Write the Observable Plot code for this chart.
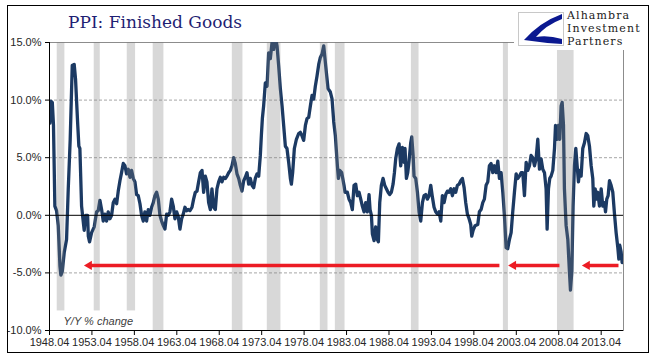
<!DOCTYPE html>
<html><head><meta charset="utf-8">
<script src="https://cdn.jsdelivr.net/npm/d3@7"></script>
<script src="https://cdn.jsdelivr.net/npm/@observablehq/plot@0.6"></script>
<style>
body{margin:0;background:#fff;}
#wrap{position:relative;width:670px;height:358px;overflow:hidden;background:#fff;}
#chart{position:absolute;left:0;top:0;}
#frame{position:absolute;left:7px;top:5px;width:640px;height:346px;border:1px solid #000;pointer-events:none;}
#title{position:absolute;left:68px;top:13.6px;font-family:"DejaVu Serif",serif;font-size:17px;line-height:17px;color:#1f1f73;white-space:nowrap;}
#logo{position:absolute;left:514px;top:6px;width:134px;height:44px;background:#fff;}
#logo svg{position:absolute;left:4px;top:6px;}
.lt{position:absolute;left:53px;font-family:"DejaVu Serif",serif;font-size:11px;line-height:12.8px;height:12.8px;letter-spacing:1.1px;color:#1a1a1a;white-space:nowrap;}
</style></head>
<body>
<div id="wrap">
  <div id="chart"></div>
  <div id="frame"></div>
  <div id="logo">
    <svg width="46" height="34" viewBox="0 0 46 34">
      <rect x="0.5" y="0.5" width="45" height="33" fill="#fff" stroke="#c8c8c8"/>
      <path d="M44,2 Q22,10 6,28 Q26,31 44,32 L44,27 Q30,23 18,25 Q28,13 44,7 Z" fill="#0a1890"/>
    </svg>
    <div class="lt" style="top:4.3px">Alhambra</div>
    <div class="lt" style="top:17.3px">Investment</div>
    <div class="lt" style="top:30.3px">Partners</div>
  </div>
  <div id="title">PPI: Finished Goods</div>
</div>
<script>
// ---- data (decimal years; values in % Y/Y) ----
const dates = [
  1948.30, 1948.42, 1948.58, 1948.72, 1948.88, 1949.08, 1949.28, 1949.48, 1949.59, 1949.75,
  1949.99, 1950.26, 1950.46, 1950.69, 1950.93, 1951.16, 1951.32, 1951.56, 1951.71, 1951.83,
  1952.03, 1952.19, 1952.34, 1952.50, 1952.74, 1952.82, 1952.97, 1953.21, 1953.52, 1953.80,
  1953.99, 1954.19, 1954.39, 1954.58, 1954.78, 1954.98, 1955.17, 1955.37, 1955.57, 1955.76,
  1955.96, 1956.16, 1956.35, 1956.55, 1956.74, 1956.94, 1957.14, 1957.33, 1957.53, 1957.73,
  1957.92, 1958.12, 1958.32, 1958.51, 1958.71, 1958.91, 1959.10, 1959.30, 1959.49, 1959.69,
  1959.89, 1960.08, 1960.28, 1960.48, 1960.67, 1960.87, 1961.07, 1961.26, 1961.46, 1961.66,
  1961.85, 1962.05, 1962.25, 1962.44, 1962.64, 1962.83, 1963.03, 1963.23, 1963.42, 1963.62,
  1963.82, 1964.01, 1964.21, 1964.41, 1964.60, 1964.80,
  1965.04, 1965.23, 1965.43, 1965.63, 1965.82, 1966.02, 1966.22, 1966.41, 1966.61, 1966.80,
  1967.00, 1967.20, 1967.39, 1967.59, 1967.79, 1967.98, 1968.18, 1968.38, 1968.57, 1968.77,
  1968.97, 1969.16, 1969.36, 1969.56, 1969.75, 1969.95, 1970.14, 1970.34, 1970.54, 1970.73,
  1970.93, 1971.13, 1971.32, 1971.52, 1971.72, 1971.91, 1972.11, 1972.31, 1972.50, 1972.70,
  1972.90, 1973.09, 1973.21, 1973.33, 1973.48, 1973.68, 1973.88, 1974.07, 1974.27, 1974.47,
  1974.66, 1974.86, 1975.06, 1975.25, 1975.45, 1975.65, 1975.84, 1976.04, 1976.23, 1976.43,
  1976.63, 1976.75, 1976.90, 1977.10, 1977.34, 1977.61, 1977.81, 1978.00, 1978.20, 1978.40,
  1978.59, 1978.79, 1978.99, 1979.18, 1979.38, 1979.57, 1979.77, 1979.97, 1980.16, 1980.36,
  1980.56, 1980.68, 1980.87, 1981.07, 1981.34, 1981.54, 1981.74, 1981.93,
  1982.17, 1982.29, 1982.44, 1982.68, 1982.95, 1983.07, 1983.34, 1983.54, 1983.74, 1983.93,
  1984.13, 1984.33, 1984.52, 1984.72, 1984.92, 1985.11, 1985.31, 1985.51, 1985.70, 1985.90,
  1986.02, 1986.18, 1986.29, 1986.49, 1986.68, 1986.88, 1987.00, 1987.16, 1987.35, 1987.55,
  1987.75, 1987.94, 1988.14, 1988.33, 1988.53, 1988.73, 1988.89, 1989.04, 1989.24, 1989.44,
  1989.63, 1989.83, 1990.02, 1990.14, 1990.30, 1990.46, 1990.61, 1990.81, 1990.93, 1991.09,
  1991.20, 1991.40, 1991.60, 1991.79, 1991.99, 1992.19, 1992.38, 1992.58, 1992.77, 1992.97,
  1993.17, 1993.36, 1993.56, 1993.76, 1993.95, 1994.15, 1994.35, 1994.54, 1994.74, 1994.94,
  1995.13, 1995.33, 1995.53, 1995.72, 1995.92, 1996.11, 1996.31, 1996.51, 1996.70, 1996.90,
  1997.10, 1997.29, 1997.49, 1997.69, 1997.88, 1998.00, 1998.16, 1998.39,
  1998.71, 1998.90, 1999.10, 1999.30, 1999.49, 1999.69, 1999.89, 2000.08, 2000.28, 2000.48,
  2000.67, 2000.87, 2001.07, 2001.26, 2001.46, 2001.66, 2001.85, 2002.05, 2002.24, 2002.44,
  2002.64, 2002.83, 2003.03, 2003.23, 2003.42, 2003.62, 2003.82, 2004.01, 2004.21, 2004.41,
  2004.60, 2004.80, 2004.99, 2005.19, 2005.39, 2005.58, 2005.78, 2005.98, 2006.17, 2006.37,
  2006.57, 2006.76, 2006.88, 2007.04, 2007.19, 2007.35, 2007.55, 2007.75, 2007.87, 2008.06,
  2008.22, 2008.37, 2008.53, 2008.65, 2008.81, 2008.92, 2009.12, 2009.32, 2009.51, 2009.63,
  2009.79, 2009.94, 2010.10, 2010.26, 2010.42, 2010.57, 2010.73, 2010.89, 2011.08, 2011.28,
  2011.48, 2011.67, 2011.87, 2012.07, 2012.26, 2012.38, 2012.54, 2012.70, 2012.85, 2013.05,
  2013.25, 2013.44, 2013.64, 2013.76, 2013.91, 2014.07, 2014.23, 2014.42, 2014.62, 2014.82,
  2015.01, 2015.21, 2015.33, 2015.44, 2015.60, 2015.72
];
const ppiYoY = [
  8.0, 9.9, 9.8, 7.8, 0.8, 0.4, -0.9, -4.4, -5.2, -4.9,
  -3.2, -2.1, 2.3, 6.6, 13.0, 13.1, 11.8, 8.1, 6.0, 5.8,
  0.8, -0.3, -1.3, 0.0, 0.0, -1.8, -2.3, -1.5, -1.0, 0.3,
  0.4, 1.3, 0.5, -0.5, 0.1, -0.5, 0.3, -0.3, 0.0, 1.1,
  1.4, 1.0, 2.1, 3.0, 3.7, 4.5, 4.3, 3.6, 4.0, 3.3,
  3.9, 3.2, 2.9, 1.8, 1.7, 1.0, 0.0, -0.5, 0.3, -0.5,
  0.5, 0.0, 0.7, 1.1, 1.7, 2.0, 1.4, 0.0, -0.5, -0.9,
  -1.2, 0.1, 0.0, 0.3, 1.4, 0.8, -0.3, 0.3, -0.1, -1.2,
  -0.3, 0.1, 0.7, 0.4, 0.5, 0.4,
  0.7, 1.4, 2.0, 2.1, 2.9, 3.7, 3.9, 2.0, 3.4, 2.9,
  1.1, 0.5, 2.3, 0.7, 0.5, 2.3, 2.9, 3.3, 2.9, 3.3,
  3.2, 3.4, 3.7, 3.9, 4.3, 5.0, 4.5, 3.6, 3.2, 2.6,
  2.1, 3.0, 3.3, 3.7, 2.7, 3.2, 2.6, 2.4, 3.2, 3.6,
  3.4, 5.2, 6.9, 8.4, 9.5, 11.5, 11.2, 14.1, 13.6, 15.0,
  14.4, 15.5, 14.7, 13.0, 11.0, 9.5, 7.8, 6.0, 5.8, 4.6,
  3.2, 2.7, 3.7, 5.8, 6.6, 7.1, 7.2, 6.9, 6.5, 7.8,
  8.4, 8.5, 9.5, 10.4, 10.1, 11.2, 12.1, 13.1, 13.7, 14.0,
  14.7, 13.8, 12.4, 11.0, 10.7, 10.1, 8.1, 6.9,
  4.3, 3.2, 3.9, 3.7, 2.6, 2.0, 2.0, 1.4, 1.1, 0.5,
  2.6, 2.7, 1.7, 2.0, 1.4, 0.8, 0.3, 1.1, 0.3, 1.8,
  0.5, 0.0, -1.6, -2.2, -1.0, -2.1, -2.3, 1.1, 2.6, 3.2,
  2.6, 2.3, 2.0, 1.8, 2.0, 2.7, 3.7, 4.9, 5.8, 6.2,
  4.3, 5.9, 4.6, 5.8, 3.2, 3.7, 4.7, 6.3, 6.8, 5.2,
  3.4, 3.2, 2.0, 0.3, -0.5, 1.1, 1.7, 1.8, 1.4, 1.7,
  2.6, 1.6, 0.7, 0.3, 0.1, 0.3, -0.5, 1.7, 1.1, 1.8,
  2.1, 2.0, 2.3, 1.7, 2.3, 2.0, 2.6, 2.7, 3.0, 3.2,
  2.4, 1.1, 0.1, -0.3, -0.8, -1.8, -1.3, -0.9,
  -0.8, 0.3, 0.5, 1.1, 1.4, 2.6, 2.9, 4.3, 4.5, 3.7,
  4.3, 3.7, 4.7, 3.2, 3.7, 2.0, 0.0, -2.8, -2.9, -2.1,
  -1.5, 0.3, 2.0, 3.6, 3.2, 3.4, 3.7, 3.7, 1.7, 4.6,
  3.9, 4.3, 5.2, 5.0, 4.3, 4.9, 6.6, 4.0, 4.9, 4.0,
  3.7, 2.3, -1.2, 2.3, 3.2, 3.4, 3.9, 5.8, 7.8, 6.6,
  7.8, 6.6, 9.5, 9.8, 7.8, 2.3, -0.9, -2.1, -4.9, -6.5,
  -4.9, 0.8, 4.3, 5.8, 4.3, 2.9, 3.9, 3.4, 5.8, 6.3,
  7.1, 6.9, 6.0, 4.3, 3.2, 0.8, 2.3, 1.4, 2.0, 0.8,
  2.3, 0.8, 1.1, 0.3, 1.4, 1.7, 3.0, 2.6, 2.0, 0.1,
  -1.5, -2.8, -3.8, -2.6, -3.2, -4.1
];
const recessionStart = [1949.16, 1953.52, 1957.41, 1960.47, 1969.79, 1973.91, 1980.16, 1981.93, 1990.89, 2001.73, 2008.10];
const recessionEnd   = [1950.06, 1954.23, 1958.39, 1961.73, 1971.04, 1975.52, 1981.06, 1983.07, 1991.79, 2002.32, 2010.06];
const arrowTail = [2001.26, 2008.33, 2015.29];
const arrowTip  = [1952.34, 2002.32, 2011.01];
const arrowLevel = -4.35;
const xTickLabels = ["1948.04","1953.04","1958.04","1963.04","1968.04","1973.04","1978.04","1983.04","1988.04","1993.04","1998.04","2003.04","2008.04","2013.04"];
const yTicks = [-10, -5, 0, 5, 10, 15];
const unitLabel = "Y/Y % change";

// ---- derived ----
const toYear = s => +s.slice(0, 4) + (+s.slice(5) - 1) / 12;
const xTicks = xTickLabels.map(toYear);
const series = dates.map((t, i) => ({t, v: ppiYoY[i]}));
const recessions = recessionStart.map((s, i) => ({s, e: recessionEnd[i]}));
const arrows = arrowTip.map((tip, i) => ({tip, tail: arrowTail[i], y: arrowLevel}));
const red = "#ec1c24";

const chart = Plot.plot({
  width: 670, height: 358,
  marginLeft: 49, marginRight: 47, marginTop: 42, marginBottom: 28,
  style: {fontFamily: "'Liberation Sans Narrow', 'Liberation Sans', sans-serif", fontSize: "11px", color: "#262626", background: "transparent"},
  x: {domain: [xTicks[0], 2015.88]},
  y: {domain: [yTicks[0], yTicks[yTicks.length - 1]]},
  marks: [
    Plot.ruleY(yTicks.filter(d => d !== 0 && d !== yTicks[0] && d !== yTicks[yTicks.length - 1]), {stroke: "#a6a6a6", strokeDasharray: "3,2", strokeWidth: 1}),
    Plot.frame({stroke: "#8c8c8c"}),
    Plot.line(series, {x: "t", y: "v", stroke: "#1c3a63", strokeWidth: 3.3, strokeLinejoin: "round", clip: true}),
    Plot.rect(recessions, {x1: "s", x2: "e", y1: d => d.s < 1959 ? -8.3 : yTicks[0], y2: yTicks[yTicks.length - 1], fill: "#7f7f7f", fillOpacity: 0.3}),
    Plot.ruleY([0], {stroke: "#000", strokeWidth: 1}),
    Plot.ruleY([yTicks[0]], {stroke: "#000", strokeWidth: 1}),
    Plot.ruleX([xTicks[0]], {stroke: "#000", strokeWidth: 1}),
    Plot.link(arrows, {x1: "tail", x2: d => d.tip + 0.5, y1: "y", y2: "y", stroke: red, strokeWidth: 3.5}),
    Plot.dot(arrows, {x: "tip", y: "y", symbol: "triangle", r: 3.4, rotate: -90, dx: 5, fill: red, stroke: "none"}),
    Plot.axisY({ticks: yTicks, tickFormat: d => d.toFixed(1) + "%", tickSize: 4, tickPadding: 4, label: null, stroke: "#000"}),
    Plot.axisX({ticks: xTicks, tickFormat: d => xTickLabels[xTicks.indexOf(d)], tickSize: 5, tickPadding: 3, label: null, stroke: "#000"}),
    Plot.text([unitLabel], {frameAnchor: "bottom-left", dx: 14, dy: -6, lineAnchor: "bottom", fontStyle: "italic", fill: "#404040", fontSize: 11})
  ]
});
document.getElementById("chart").appendChild(chart);
</script>
</body></html>
